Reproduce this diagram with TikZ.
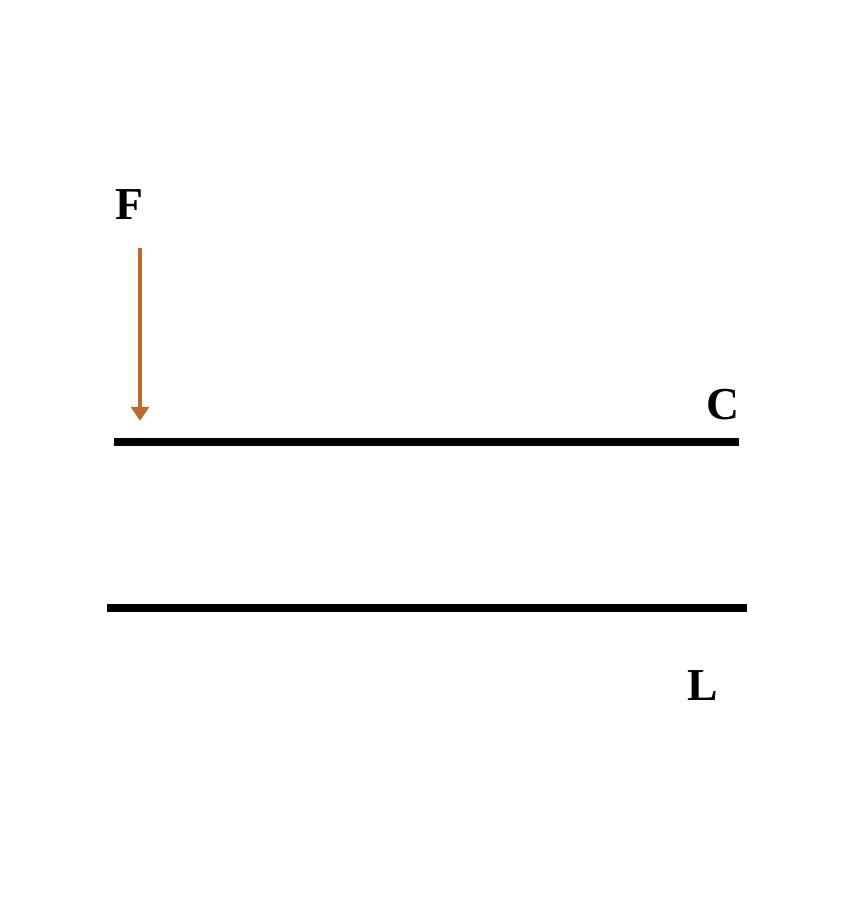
\documentclass[tikz,border=0pt]{standalone}
\usepackage{fontspec}
\setmainfont{Liberation Serif}
\usepackage{tikz}
\usetikzlibrary{positioning, arrows.meta}
\definecolor{kraftfarbe}{RGB}{190,106,46}
\tikzset{stab/.style={line width=4pt},
	kraft/.style={line width=2.2pt, draw=kraftfarbe, -{Triangle[width=10pt,length=8pt,fill=kraftfarbe]}},
	marke/.style={inner sep=0, font=\fontsize{26}{30}\selectfont\bfseries} }

\begin{document}
\begin{tikzpicture}
	\useasboundingbox (0,0) rectangle (17,18);

	% obere und untere Linie
	\coordinate (o1) at (2.28,9.16);
	\coordinate (o2) at (14.78,9.16);
	\coordinate (u1) at (2.14,5.84);
	\coordinate (u2) at (14.94,5.84);
	\draw [stab] (o1) -- (o2);
	\draw [stab] (u1) -- (u2);

	% Kraft
	\coordinate (k0) at (2.8,13.04);
	\coordinate (k1) at (2.8,9.58);
	\draw [kraft] (k0) -- (k1);

	\node (f) [marke] at (2.58,13.9) {F};
	\node (c) [marke] at (14.46,9.9) {C};
	\node (l) [marke] at (14.06,4.28) {L};
\end{tikzpicture}
\end{document}
